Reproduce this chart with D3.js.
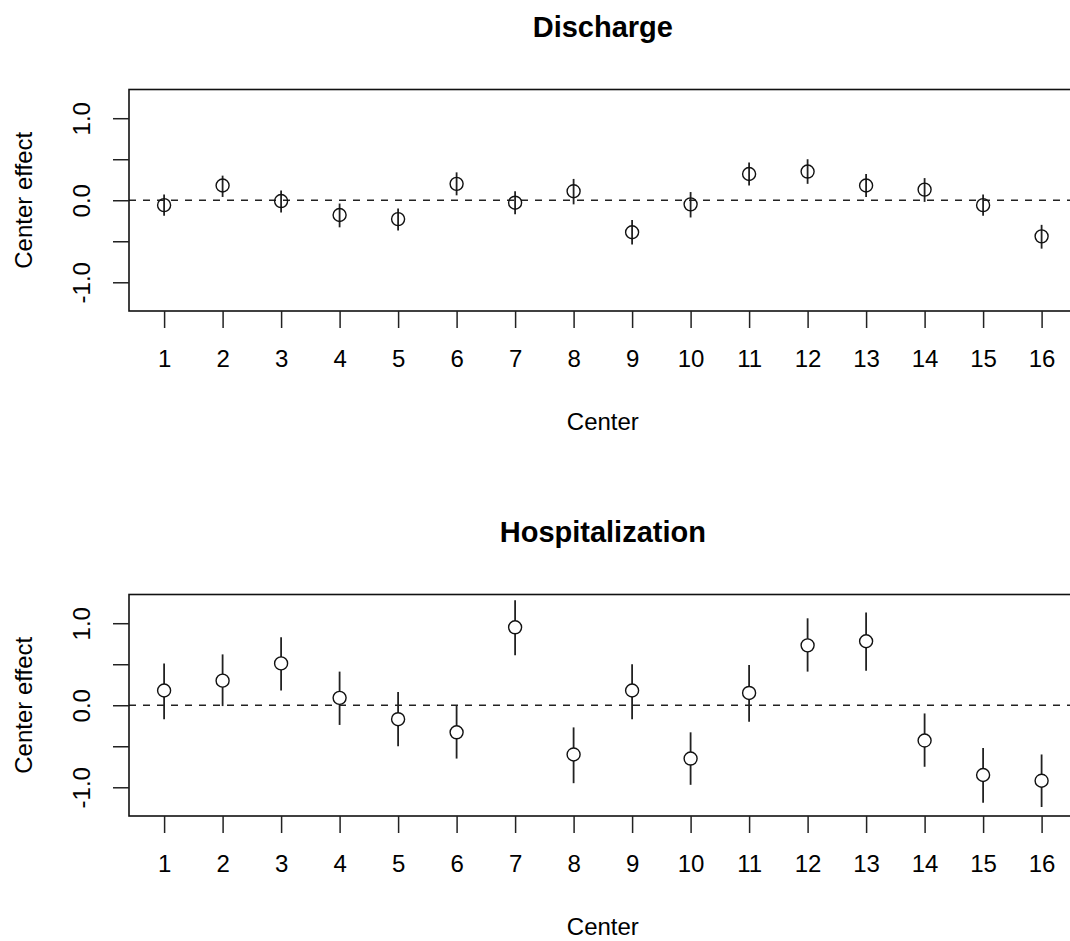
<!DOCTYPE html>
<html>
<head>
<meta charset="utf-8">
<script src="https://cdn.jsdelivr.net/npm/d3@7"></script>
<style>
  body { margin: 0; background: #fff; }
  text { font-family: "Liberation Sans", Arial, Helvetica, sans-serif; fill: #000; }
</style>
</head>
<body>
<div id="chart"></div>
<script>
// Data
var centers = [1, 2, 3, 4, 5, 6, 7, 8, 9, 10, 11, 12, 13, 14, 15, 16];

var dischargeEst = [-0.06, 0.18, -0.01, -0.18, -0.23, 0.20, -0.03, 0.11, -0.39, -0.05, 0.32, 0.35, 0.18, 0.13, -0.06, -0.44];
var dischargeLo  = [-0.19, 0.04, -0.15, -0.33, -0.37, 0.06, -0.17, -0.05, -0.54, -0.21, 0.18, 0.20, 0.04, -0.02, -0.19, -0.59];
var dischargeHi  = [0.07, 0.30, 0.12, -0.04, -0.10, 0.34, 0.11, 0.26, -0.24, 0.10, 0.46, 0.50, 0.32, 0.27, 0.07, -0.30];

var hospEst = [0.18, 0.30, 0.51, 0.09, -0.17, -0.33, 0.95, -0.60, 0.18, -0.65, 0.15, 0.73, 0.78, -0.43, -0.85, -0.92];
var hospLo  = [-0.17, -0.01, 0.18, -0.24, -0.50, -0.65, 0.61, -0.95, -0.17, -0.97, -0.20, 0.41, 0.42, -0.75, -1.19, -1.24];
var hospHi  = [0.51, 0.62, 0.83, 0.41, 0.16, 0.00, 1.28, -0.27, 0.50, -0.33, 0.49, 1.06, 1.13, -0.10, -0.52, -0.60];

var yTicks = [-1, -0.5, 0, 0.5, 1];
var yTickLabels = ["-1.0", "", "0.0", "", "1.0"];

var panelTitles = ["Discharge", "Hospitalization"];
var xTitle = "Center";
var yTitle = "Center effect";

// --> SVG DRAWING AREA
var width = 1070,
    height = 941;

var svg = d3.select("#chart").append("svg")
    .attr("width", width)
    .attr("height", height);

var plotLeft = 129,
    plotRight = 1076.7,
    plotTop = 89.5,
    plotBottom = 311,
    panelShift = 505;

var x = d3.scaleLinear()
    .domain([0.4, 16.6])
    .range([plotLeft, plotRight]);

var panels = [
  { title: panelTitles[0], est: dischargeEst, lo: dischargeLo, hi: dischargeHi, fill: "none" },
  { title: panelTitles[1], est: hospEst, lo: hospLo, hi: hospHi, fill: "#fff" }
];

panels.forEach(function(p, k) {
  var g = svg.append("g")
      .attr("transform", "translate(0," + (k * panelShift) + ")");

  var y = d3.scaleLinear()
      .domain([-1.35, 1.35])
      .range([plotBottom, plotTop]);

  // title
  g.append("text")
      .attr("x", (plotLeft + plotRight) / 2)
      .attr("y", 37)
      .attr("text-anchor", "middle")
      .style("font-size", "29px")
      .style("font-weight", "bold")
      .text(p.title);

  // reference line at zero
  g.append("line")
      .attr("x1", plotLeft).attr("x2", plotRight)
      .attr("y1", y(0)).attr("y2", y(0))
      .attr("stroke", "#222")
      .attr("stroke-width", 1.5)
      .attr("stroke-dasharray", "7,7");

  var rows = centers.map(function(c, i) {
    return { c: c, est: p.est[i], lo: p.lo[i], hi: p.hi[i] };
  });

  // interval bars
  g.selectAll(".bar")
      .data(rows)
    .enter().append("line")
      .attr("class", "bar")
      .attr("x1", function(d) { return x(d.c); })
      .attr("x2", function(d) { return x(d.c); })
      .attr("y1", function(d) { return y(d.lo); })
      .attr("y2", function(d) { return y(d.hi); })
      .attr("stroke", "#222")
      .attr("stroke-width", 1.8);

  // point estimates
  g.selectAll(".pt")
      .data(rows)
    .enter().append("circle")
      .attr("class", "pt")
      .attr("cx", function(d) { return x(d.c); })
      .attr("cy", function(d) { return y(d.est); })
      .attr("r", 6.5)
      .attr("fill", p.fill)
      .attr("stroke", "#111")
      .attr("stroke-width", 1.4);

  // plot box
  g.append("rect")
      .attr("x", plotLeft)
      .attr("y", plotTop)
      .attr("width", plotRight - plotLeft)
      .attr("height", plotBottom - plotTop)
      .attr("fill", "none")
      .attr("stroke", "#111")
      .attr("stroke-width", 1.6);

  // x axis
  var xAxis = g.append("g")
      .attr("transform", "translate(0," + plotBottom + ")")
      .call(d3.axisBottom(x).tickValues(centers).tickSize(17).tickFormat(d3.format("d")));
  xAxis.select(".domain").remove();
  xAxis.selectAll(".tick line").attr("stroke", "#222").attr("stroke-width", 1.5);
  xAxis.selectAll(".tick text")
      .attr("y", 56)
      .attr("dy", null)
      .style("font-size", "24px")
      .attr("fill", "#000");

  // y axis
  var yAxis = g.append("g")
      .attr("transform", "translate(" + plotLeft + ",0)")
      .call(d3.axisLeft(y).tickValues(yTicks).tickSize(16)
        .tickFormat(function(d, i) { return yTickLabels[i]; }));
  yAxis.select(".domain").remove();
  yAxis.selectAll(".tick line").attr("stroke", "#222").attr("stroke-width", 1.5);
  yAxis.selectAll(".tick text")
      .attr("x", null)
      .attr("dy", null)
      .attr("text-anchor", "middle")
      .attr("transform", "translate(-39,0) rotate(-90)")
      .style("font-size", "24px")
      .attr("fill", "#000");

  // axis titles
  g.append("text")
      .attr("x", (plotLeft + plotRight) / 2)
      .attr("y", 429.5)
      .attr("text-anchor", "middle")
      .style("font-size", "24px")
      .text(xTitle);

  g.append("text")
      .attr("transform", "translate(31.5," + ((plotTop + plotBottom) / 2) + ") rotate(-90)")
      .attr("text-anchor", "middle")
      .style("font-size", "24px")
      .text(yTitle);
});
</script>
</body>
</html>
